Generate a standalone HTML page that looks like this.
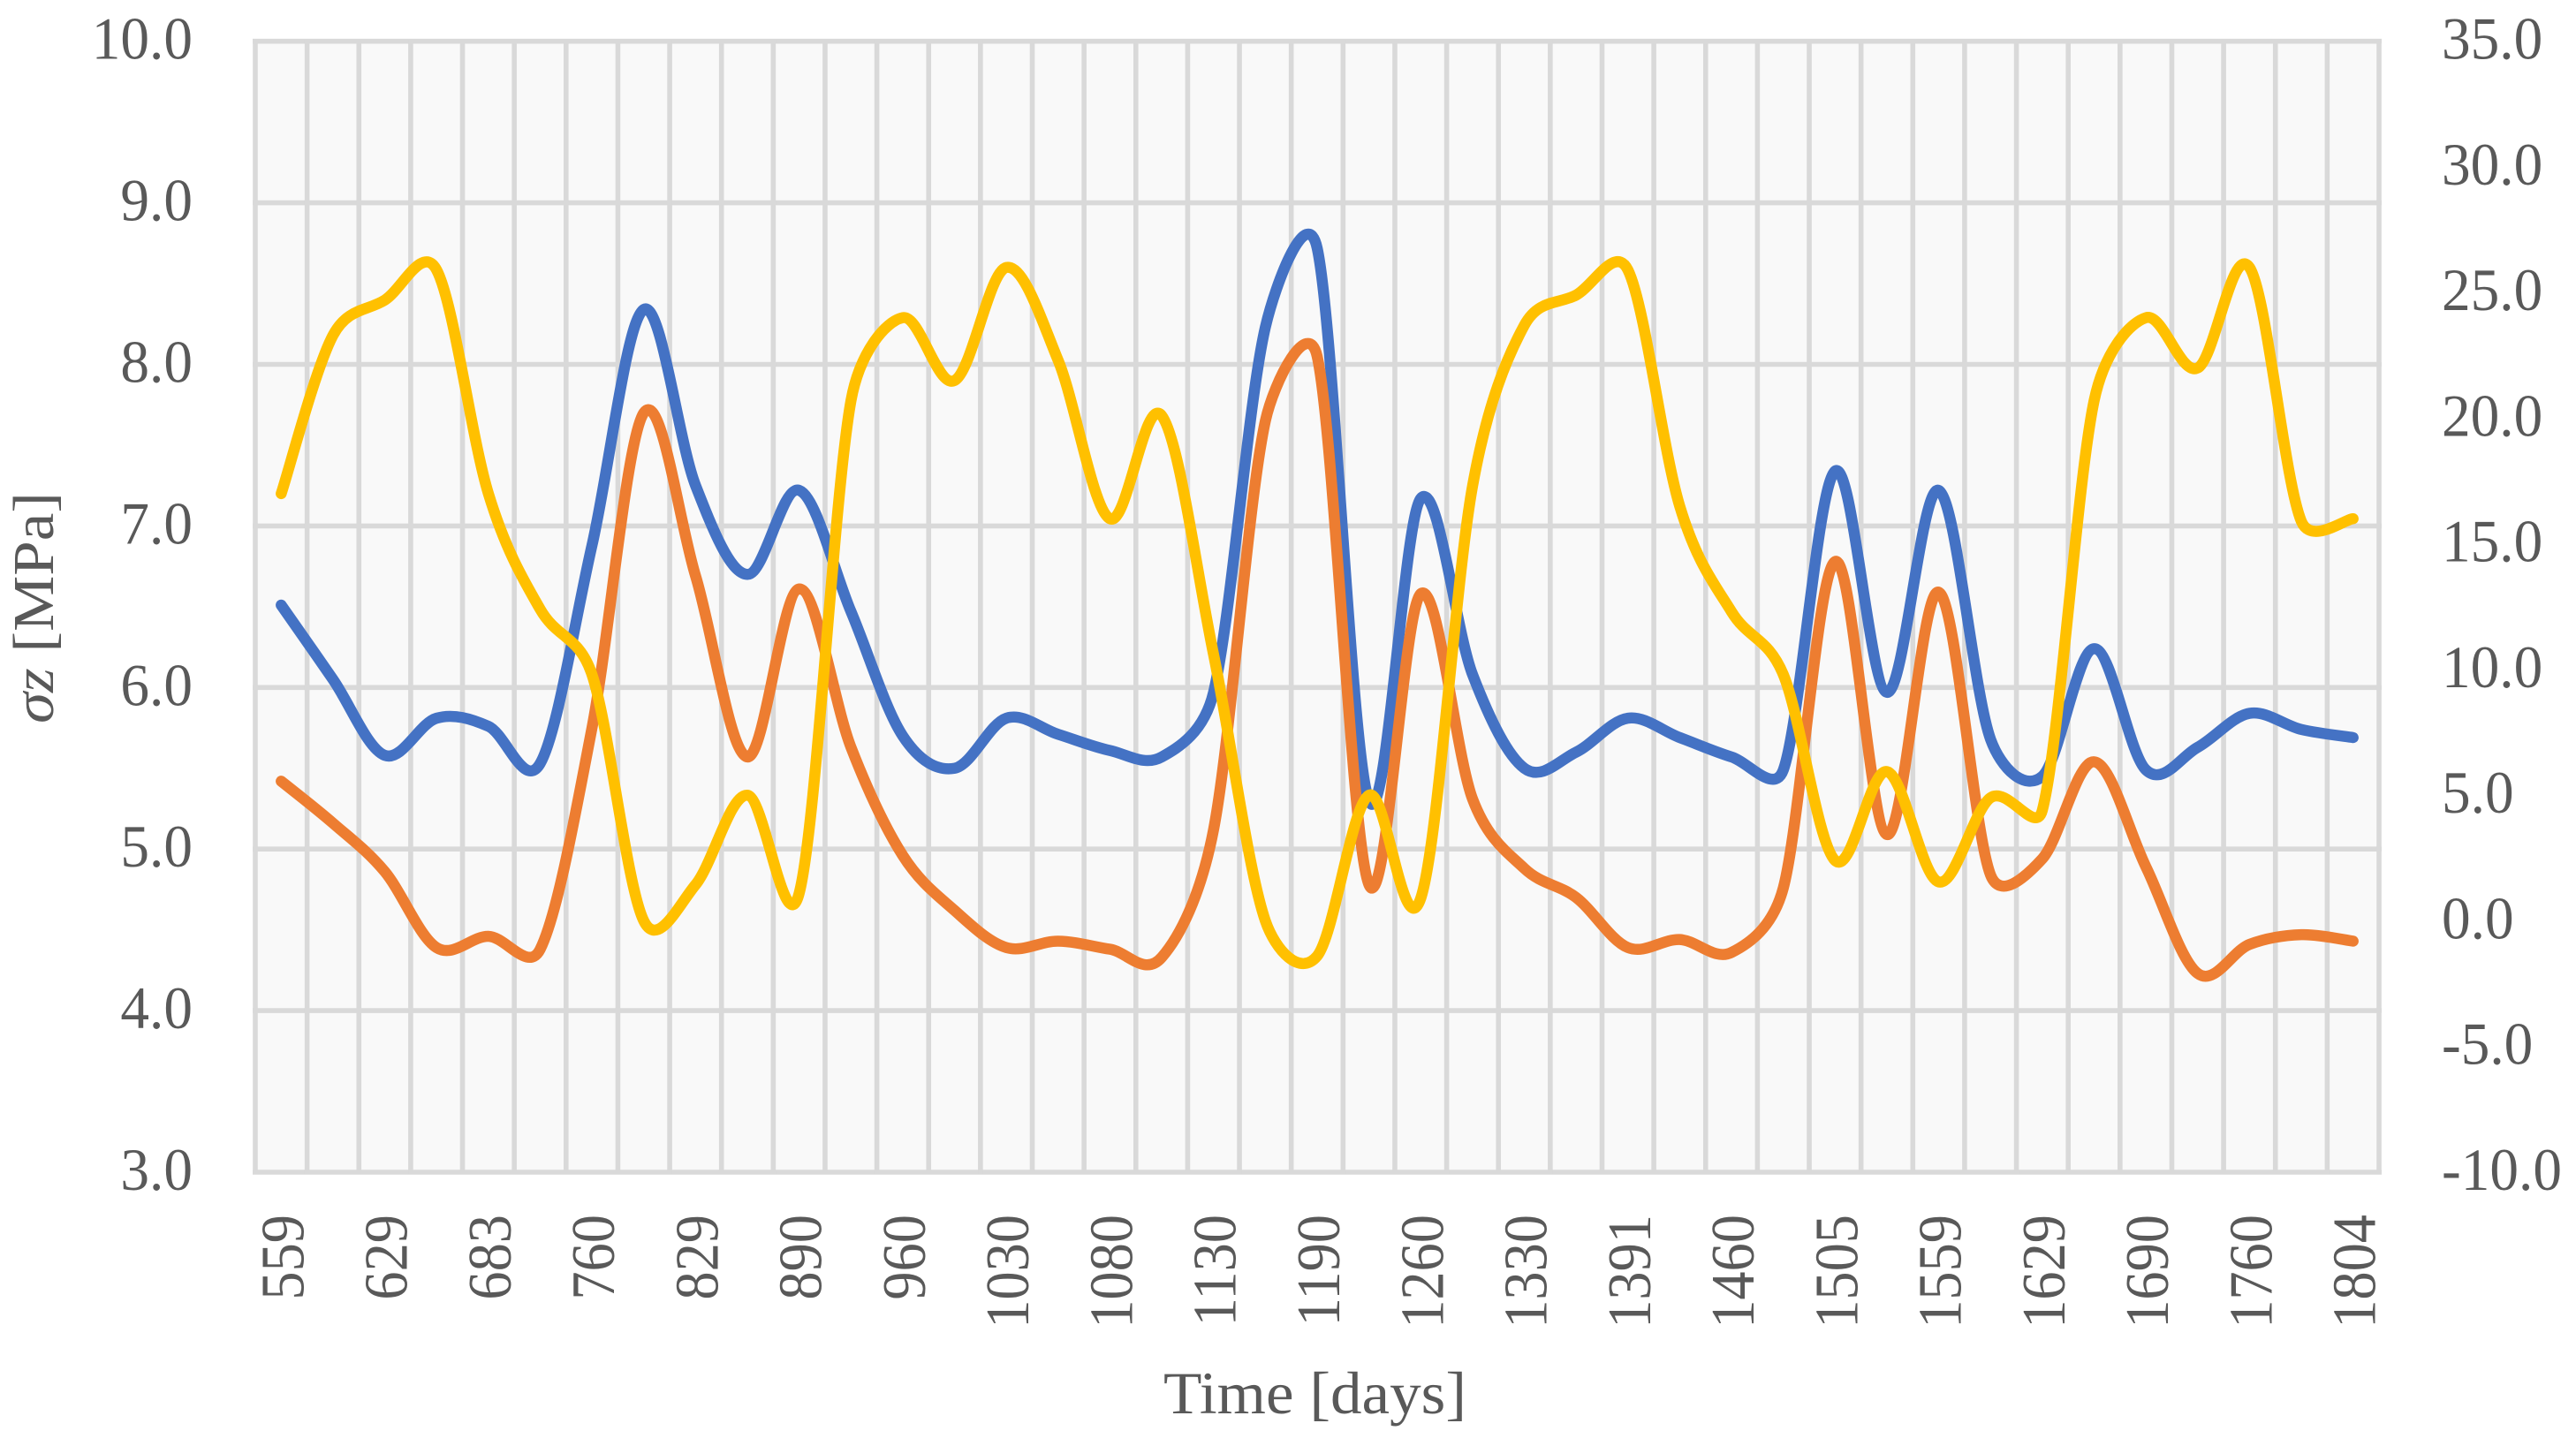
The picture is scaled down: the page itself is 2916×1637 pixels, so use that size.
<!DOCTYPE html>
<html lang="en">
<head>
<meta charset="utf-8">
<title>Time series chart</title>
<style>
html,body{margin:0;padding:0;background:#fff;width:2916px;height:1637px;overflow:hidden}
svg{display:block}
text{font-family:"Liberation Serif",serif;fill:#595959}
</style>
</head>
<body>
<svg id="chart" xmlns="http://www.w3.org/2000/svg" width="2916" height="1637" viewBox="0 0 2916 1637">
  <rect x="289" y="46.7" width="2404" height="1280.3" fill="#f9f9f9"/>
  <g id="grid"></g>
  <g id="series"></g>
  <g id="left-ticks"></g>
  <g id="right-ticks"></g>
  <g id="x-ticks"></g>
  <text transform="translate(60,819) rotate(-90)" font-size="66" textLength="262" lengthAdjust="spacingAndGlyphs"><tspan font-style="italic">σz</tspan> [MPa]</text>
  <text x="1317" y="1600" font-size="68" textLength="343" lengthAdjust="spacingAndGlyphs">Time [days]</text>
</svg>
<script>
const xTickLabels = ["559","629","683","760","829","890","960","1030","1080","1130","1190","1260","1330","1391","1460","1505","1559","1629","1690","1760","1804"];
const leftTickValues = [3,4,5,6,7,8,9,10];
const rightTickValues = [-10,-5,0,5,10,15,20,25,30,35];
const seriesBlue = [6.51,6.05,5.58,5.81,5.76,5.53,6.88,8.34,7.25,6.70,7.22,6.47,5.70,5.50,5.81,5.71,5.61,5.57,5.97,8.23,8.72,5.30,7.17,6.08,5.50,5.60,5.81,5.69,5.57,5.49,7.34,5.97,7.22,5.68,5.45,6.24,5.49,5.63,5.84,5.74,5.69];
const seriesOrange = [5.42,5.16,4.86,4.39,4.46,4.38,5.75,7.70,6.69,5.57,6.61,5.63,4.96,4.62,4.39,4.43,4.38,4.33,5.12,7.65,8.05,4.78,6.58,5.31,4.88,4.70,4.39,4.44,4.36,4.76,6.78,5.09,6.59,4.84,4.94,5.54,4.89,4.23,4.41,4.47,4.43];
const seriesYellow = [17.0,23.3,24.7,25.9,17.0,12.4,9.8,0.0,1.44,5.0,1.1,20.7,24.0,21.5,26.0,22.3,16.0,20.1,10.6,0.0,-1.4,5.0,0.9,17.3,23.7,24.9,25.9,16.5,12.3,9.8,2.4,5.94,1.55,4.9,4.4,20.7,24.0,22.0,26.0,15.9,16.0];

const NS = "http://www.w3.org/2000/svg";
const plot = {left:289, right:2693, top:46.7, bottom:1327};
const categoryCount = seriesBlue.length;
const categoryWidth = (plot.right - plot.left) / categoryCount;

function xAt(i){ return plot.left + (i + 0.5) * categoryWidth; }
function yLeft(v){ return plot.bottom - (v - 3) / 7 * (plot.bottom - plot.top); }
function yRight(v){ return plot.bottom - (v + 10) / 45 * (plot.bottom - plot.top); }

function dist(p, q){ return Math.hypot(q[0] - p[0], q[1] - p[1]); }
function handleScale(chord, segment){
  if (chord === 0) return 0;
  return Math.min(1 / 6, (segment / 2) / chord);
}
function smoothPath(values, yFn){
  const p = values.map(function(v,i){ return [xAt(i), yFn(v)]; });
  let d = "M" + p[0][0].toFixed(2) + " " + p[0][1].toFixed(2);
  for (let i = 0; i < p.length - 1; i++) {
    const a = p[Math.max(i-1,0)], b = p[i], c = p[i+1], e = p[Math.min(i+2,p.length-1)];
    const seg = dist(b, c);
    const s1 = handleScale(dist(a, c), seg), s2 = handleScale(dist(b, e), seg);
    const c1x = b[0] + (c[0]-a[0])*s1, c1y = b[1] + (c[1]-a[1])*s1;
    const c2x = c[0] - (e[0]-b[0])*s2, c2y = c[1] - (e[1]-b[1])*s2;
    d += "C" + c1x.toFixed(2) + " " + c1y.toFixed(2) + " " + c2x.toFixed(2) + " " + c2y.toFixed(2) + " " + c[0].toFixed(2) + " " + c[1].toFixed(2);
  }
  return d;
}

const grid = document.getElementById("grid");
leftTickValues.forEach(function(v){
  const ln = document.createElementNS(NS,"line");
  
  
  ln.setAttribute("x1", plot.left - 3);
  ln.setAttribute("x2", plot.right + 3);
  ln.setAttribute("y1", yLeft(v));
  ln.setAttribute("y2", yLeft(v));
  ln.setAttribute("stroke", "#d9d9d9");
  ln.setAttribute("stroke-width", "5.6");
  grid.appendChild(ln);
});
for (let i = 0; i <= categoryCount; i++) {
  const ln = document.createElementNS(NS,"line");
  
  
  const gx = plot.left + i * categoryWidth;
  ln.setAttribute("x1", gx);
  ln.setAttribute("x2", gx);
  ln.setAttribute("y1", plot.top - 2);
  ln.setAttribute("y2", plot.bottom + 2);
  ln.setAttribute("stroke", "#d9d9d9");
  ln.setAttribute("stroke-width", "5.6");
  grid.appendChild(ln);
}

const seriesGroup = document.getElementById("series");
function drawSeries(values, yFn, color, name){
  const path = document.createElementNS(NS,"path");
  
  
  path.setAttribute("d", smoothPath(values, yFn));
  path.setAttribute("fill", "none");
  path.setAttribute("stroke", color);
  path.setAttribute("stroke-width", "12.5");
  path.setAttribute("stroke-linecap", "round");
  path.setAttribute("stroke-linejoin", "round");
  seriesGroup.appendChild(path);
}
drawSeries(seriesBlue, yLeft, "#4472c4", "blue-series-line");
drawSeries(seriesOrange, yLeft, "#ed7d31", "orange-series-line");
drawSeries(seriesYellow, yRight, "#ffc000", "yellow-series-line");

const leftTicks = document.getElementById("left-ticks");
leftTickValues.forEach(function(v){
  const t = document.createElementNS(NS,"text");
  
  
  t.setAttribute("transform", "translate(218," + (yLeft(v) + 20) + ") scale(0.96,1)");
  t.setAttribute("text-anchor", "end");
  t.setAttribute("font-size", "68");
  t.textContent = v.toFixed(1);
  leftTicks.appendChild(t);
});

const rightTicks = document.getElementById("right-ticks");
rightTickValues.forEach(function(v){
  const t = document.createElementNS(NS,"text");
  
  
  t.setAttribute("transform", "translate(2764," + (yRight(v) + 20) + ") scale(0.96,1)");
  t.setAttribute("font-size", "68");
  t.textContent = v.toFixed(1);
  rightTicks.appendChild(t);
});

const xTicks = document.getElementById("x-ticks");
xTickLabels.forEach(function(label,k){
  const t = document.createElementNS(NS,"text");
  
  
  t.setAttribute("transform", "translate(" + (xAt(k * 2) + 25) + ",1375) rotate(-90) scale(0.92,1)");
  t.setAttribute("text-anchor", "end");
  t.setAttribute("font-size", "70");
  t.textContent = label;
  xTicks.appendChild(t);
});
</script>
</body>
</html>
